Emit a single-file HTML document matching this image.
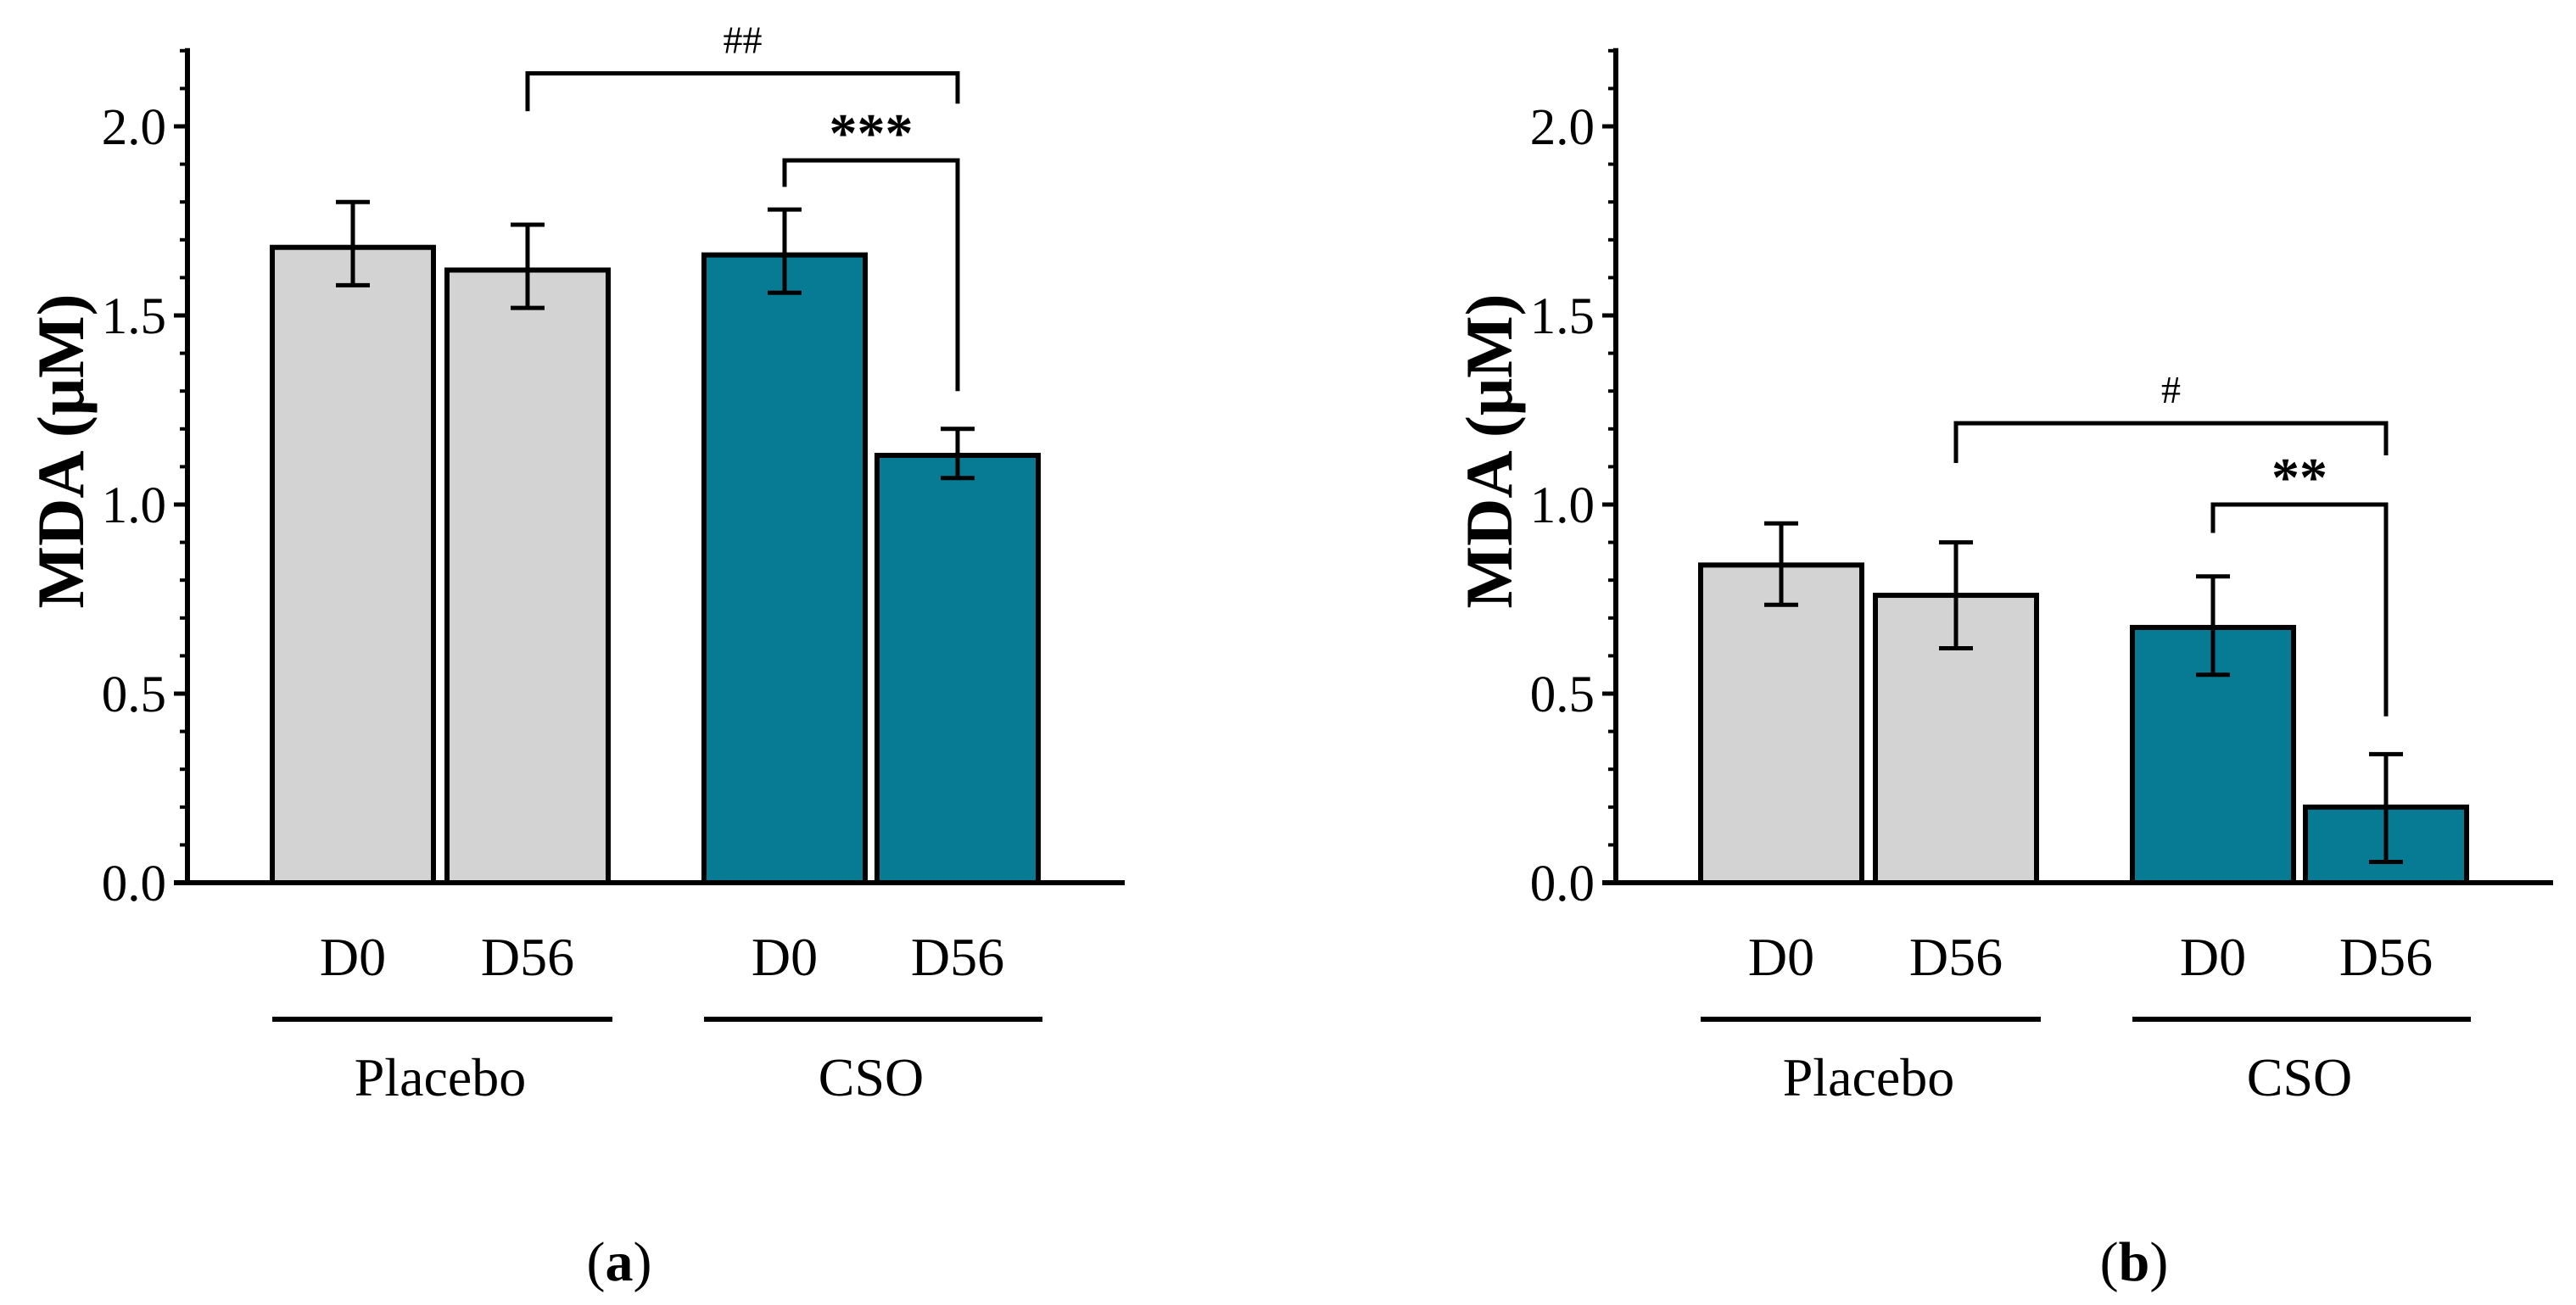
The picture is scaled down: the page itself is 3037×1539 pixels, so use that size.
<!DOCTYPE html>
<html><head><meta charset="utf-8">
<style>
html,body{margin:0;padding:0;background:#fff;}
svg{display:block;}
text{font-family:"Liberation Serif",serif;fill:#000;}
</style></head>
<body>
<svg id="chart" width="3037" height="1539" viewBox="0 0 3037 1539" xmlns="http://www.w3.org/2000/svg"></svg>
<script>
const categories = ["D0","D56","D0","D56"];
const groups = ["Placebo","CSO"];
const valuesA = [1.68, 1.62, 1.66, 1.13];
const errHiA = [1.80, 1.74, 1.78, 1.20];
const errLoA = [1.58, 1.52, 1.56, 1.07];
const valuesB = [0.84, 0.76, 0.675, 0.20];
const errHiB = [0.95, 0.90, 0.81, 0.34];
const errLoB = [0.735, 0.62, 0.55, 0.055];
const tickLabels = ["0.0","0.5","1.0","1.5","2.0"];
const tickValues = [0, 0.5, 1.0, 1.5, 2.0];
const sigA = [{from:1,to:3,label:"##",y:2.14,dl:2.04,dr:2.06,star:false},{from:2,to:3,label:"***",y:1.91,dl:1.84,dr:1.30,star:true}];
const sigB = [{from:1,to:3,label:"#",y:1.215,dl:1.11,dr:1.13,star:false},{from:2,to:3,label:"**",y:1.0,dl:0.925,dr:0.44,star:true}];

const NS="http://www.w3.org/2000/svg";
const svg=document.getElementById('chart');
function mk(tag,attrs,parent,txt){const e=document.createElementNS(NS,tag);for(const k in attrs)e.setAttribute(k,attrs[k]);if(txt!==undefined)e.textContent=txt;(parent||svg).appendChild(e);return e;}

function panel(ox, vals, hi, lo, sig, letter, letterX){
  const g=mk('g',{});
  
  
  const y0=1041, ppu=446;
  const y=v=>y0-v*ppu;
  const axX=ox+221;
  const barL=[321,527,830,1034].map(v=>v+ox);
  const bw=190;
  const xc=i=>barL[i]+bw/2;
  vals.forEach((v,i)=>{
    const r=mk('rect',{x:barL[i],y:y(v),width:bw,height:y0-y(v),fill:i<2?'#d3d3d3':'#087b94',stroke:'#000','stroke-width':6},g);
    
    
  });
  vals.forEach((v,i)=>{
    const eg=mk('g',{stroke:'#000','stroke-width':5,fill:'none'},g);
    
    
    mk('line',{x1:xc(i),x2:xc(i),y1:y(hi[i]),y2:y(lo[i])},eg);
    mk('line',{x1:xc(i)-20,x2:xc(i)+20,y1:y(hi[i]),y2:y(hi[i])},eg);
    mk('line',{x1:xc(i)-20,x2:xc(i)+20,y1:y(lo[i]),y2:y(lo[i])},eg);
  });
  const ax=mk('g',{stroke:'#000',fill:'none'},g);
  
  
  mk('line',{x1:axX,x2:axX,y1:y(2.2)-3,y2:y0+3,'stroke-width':6},ax);
  for(let k=0;k<=22;k++){
    const v=k/10; const major=(k%5===0);
    mk('line',{x1:axX-(major?16:9),x2:axX,y1:y(v),y2:y(v),'stroke-width':major?5:4},ax);
  }
  const xa=mk('line',{x1:axX-16,x2:ox+1326,y1:y0,y2:y0,stroke:'#000','stroke-width':6},g);
  
  
  tickValues.forEach((v,i)=>{
    const t=mk('text',{x:axX-25,y:y(v)+21,'font-size':61,'text-anchor':'end'},g,tickLabels[i]);
    
    
  });
  const yt=mk('text',{x:0,y:0,'font-size':78,'font-weight':'bold','text-anchor':'middle',transform:`translate(${ox+98},532) rotate(-90)`},g,'MDA (μM)');
  
  
  categories.forEach((c,i)=>{
    const t=mk('text',{x:xc(i),y:1150,'font-size':64,'text-anchor':'middle'},g,c);
    
    
  });
  groups.forEach((gn,j)=>{
    const l=barL[j*2], r=barL[j*2+1]+bw;
    const ln=mk('line',{x1:l,x2:r+5,y1:1202,y2:1202,stroke:'#000','stroke-width':6},g);
    
    
    const t=mk('text',{x:(l+r)/2,y:1292,'font-size':64,'text-anchor':'middle'},g,gn);
    
    
  });
  sig.forEach((s,k)=>{
    const sg=mk('g',{},g);
    
    
    const xl=xc(s.from), xr=xc(s.to);
    mk('path',{d:`M${xl} ${y(s.dl)} V${y(s.y)} H${xr} V${y(s.dr)}`,stroke:'#000','stroke-width':5,fill:'none'},sg);
    if(s.star){
      mk('text',{x:(xl+xr)/2,y:y(s.y)-10,'font-size':66,'font-weight':'bold','text-anchor':'middle','font-family':'Liberation Sans, sans-serif'},sg,s.label);
    } else {
      mk('text',{x:(xl+xr)/2,y:y(s.y)-24,'font-size':46,'text-anchor':'middle'},sg,s.label);
    }
  });
  const pl=mk('text',{x:letterX,y:1510,'font-size':66,'text-anchor':'middle'},g);
  
  
  mk('tspan',{},pl,'(');
  mk('tspan',{'font-weight':'bold'},pl,letter);
  mk('tspan',{},pl,')');
}
panel(0, valuesA, errHiA, errLoA, sigA, 'a', 730);
panel(1684, valuesB, errHiB, errLoB, sigB, 'b', 2516);
</script>
</body></html>
